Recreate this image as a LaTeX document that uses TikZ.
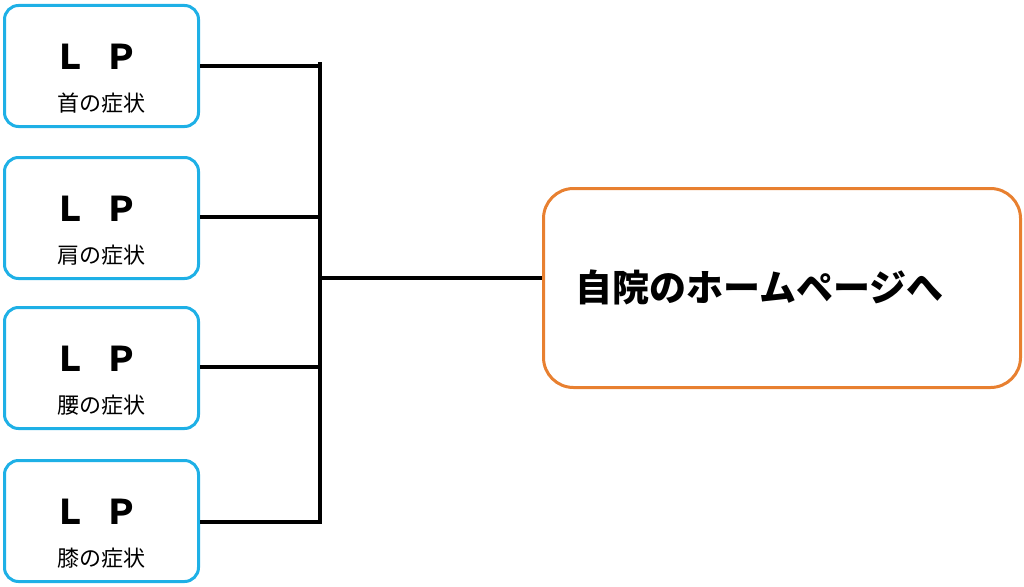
\documentclass[tikz,border=0pt]{standalone}
\usepackage{fontspec}
\newfontfamily\cjk{Noto Sans CJK JP}
\begin{document}
\begin{tikzpicture}[x=1pt,y=-1pt,
  lp/.style={draw={rgb,255:red,30;green,176;blue,230},line width=3pt,rounded corners=14pt,minimum width=194pt,minimum height=121pt,anchor=north west,inner sep=0pt},
  home/.style={draw={rgb,255:red,232;green,128;blue,48},line width=3pt,rounded corners=30pt,minimum width=477pt,minimum height=199pt,anchor=north west,inner sep=0pt},
  conn/.style={line width=4pt,black}]
\useasboundingbox (0,0) rectangle (1024,586);
\foreach \n/\y/\t in {a/4/首の症状,b/156/肩の症状,c/306/腰の症状,d/459/膝の症状}{
  \node[lp] (\n) at (3,\y) {};
  \node[font=\cjk\bfseries\fontsize{34}{34}\selectfont] (\n t) at (96,\y+53) {Ｌ\hspace{18pt}Ｐ};
  \node[font=\cjk\fontsize{22}{22}\selectfont] (\n s) at (101,\y+99) {\t};
}
\node[home] (h) at (542,187) {};
\node[font=\cjk\bfseries\fontsize{37}{37}\selectfont,anchor=west] (ht) at (572,287) {自院のホームページへ};
\coordinate (j) at (320,278);
\coordinate (top) at (320,62);
\coordinate (bot) at (320,524);
\draw[conn] (a.east|-0,66) -- (320,66);
\draw[conn] (b.east|-0,217) -- (320,217);
\draw[conn] (c.east|-0,367) -- (320,367);
\draw[conn] (d.east|-0,522) -- (320,522);
\draw[conn] (top) -- (bot);
\draw[conn] (j) -- (h.west|-j);
\end{tikzpicture}
\end{document}
